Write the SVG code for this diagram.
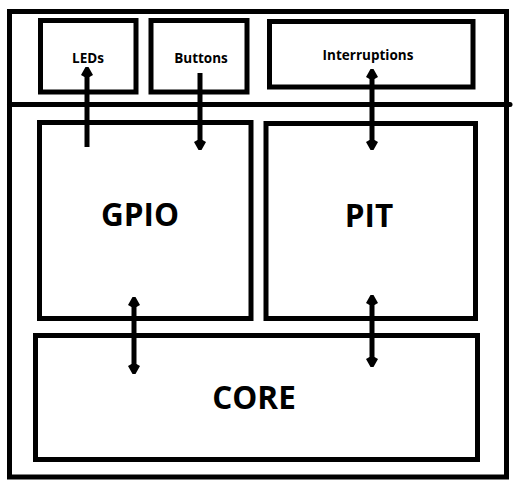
<svg xmlns="http://www.w3.org/2000/svg" width="518" height="489" viewBox="0 0 518 489">
<style>
.box{fill:none;stroke:#000;stroke-width:5}
.lbl{font-family:"Open Sans","Liberation Sans",sans-serif;font-weight:700;fill:#000;text-anchor:middle}
.s{font-size:13.5px}
.b{font-size:31.5px}
.ln{stroke:#000;stroke-width:5;fill:none}
</style>
<defs>
<marker id="ah" viewBox="-19 -7 20 14" markerWidth="20" markerHeight="14" refX="-8" refY="0" markerUnits="userSpaceOnUse" orient="auto-start-reverse">
<path d="M0,-1.5 L0,1.5 L-8,6 L-10,2.5 L-10,-2.5 L-8,-6 Z" fill="#000"/>
</marker>
</defs>
<rect width="518" height="489" fill="#fff"/>
<g id="frame">
<rect class="box" x="9.5" y="11.5" width="497" height="465.5"/>
<line class="ln" x1="9.5" y1="104.5" x2="510" y2="104.5" stroke-linecap="round"/>
</g>
<g id="leds"><rect class="box" x="40.5" y="20.5" width="95.5" height="71.5"/><text class="lbl s" x="88" y="63">LEDs</text></g>
<g id="buttons"><rect class="box" x="151" y="20.5" width="96" height="71.5"/><text class="lbl s" x="201" y="63">Buttons</text></g>
<g id="interruptions"><rect class="box" x="269.5" y="21.5" width="203.5" height="65.5"/><text class="lbl s" x="368" y="59.5">Interruptions</text></g>
<g id="gpio"><rect class="box" x="39.5" y="122.5" width="211.5" height="196"/><text class="lbl b" x="140" y="225.5">GPIO</text></g>
<g id="pit"><rect class="box" x="266" y="123.5" width="209.5" height="195"/><text class="lbl b" x="369" y="226.5">PIT</text></g>
<g id="core"><rect class="box" x="35.5" y="335.5" width="442" height="124"/><text class="lbl b" x="254" y="408.5">CORE</text></g>
<g id="connectors">
<line class="ln" x1="87" y1="147" x2="87" y2="75" marker-end="url(#ah)"/>
<line class="ln" x1="200" y1="73" x2="200" y2="142" marker-end="url(#ah)"/>
<line class="ln" x1="372" y1="77" x2="372" y2="142" marker-start="url(#ah)" marker-end="url(#ah)"/>
<line class="ln" x1="134" y1="305" x2="134" y2="366" marker-start="url(#ah)" marker-end="url(#ah)"/>
<line class="ln" x1="372" y1="303" x2="372" y2="359" marker-start="url(#ah)" marker-end="url(#ah)"/>
</g>
</svg>
